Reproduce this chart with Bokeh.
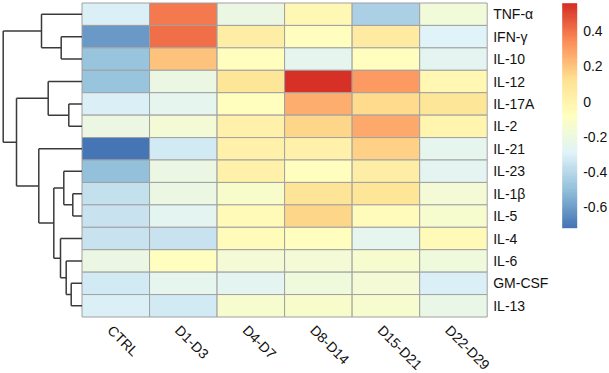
import numpy as np
from bokeh.plotting import figure
from bokeh.models import (ColumnDataSource, Range1d, LinearColorMapper, ColorBar,
                          FixedTicker)
from bokeh.core.properties import value
from bokeh.embed import file_html
from bokeh.resources import INLINE

# ---- data -------------------------------------------------------------
columns = ["CTRL", "D1-D3", "D4-D7", "D8-D14", "D15-D21", "D22-D29"]
rows = ["TNF-α", "IFN-γ", "IL-10", "IL-12", "IL-17A", "IL-2", "IL-21",
        "IL-23", "IL-1β", "IL-5", "IL-4", "IL-6", "GM-CSF", "IL-13"]

tnf_a  = [-0.30,  0.39, -0.21, -0.03, -0.43, -0.17]
ifn_g  = [-0.61,  0.41,  0.04, -0.07,  0.06, -0.29]
il_10  = [-0.48,  0.21, -0.07, -0.25, -0.07, -0.27]
il_12  = [-0.48, -0.22,  0.09,  0.56,  0.31, -0.02]
il_17a = [-0.30, -0.25, -0.07,  0.26,  0.14,  0.09]
il_2   = [-0.22, -0.16,  0.02,  0.16,  0.27, -0.01]
il_21  = [-0.72, -0.33,  0.02,  0.02,  0.17, -0.25]
il_23  = [-0.49, -0.21,  0.02, -0.07,  0.04, -0.26]
il_1b  = [-0.37, -0.22, -0.12,  0.10,  0.09, -0.16]
il_5   = [-0.35, -0.26, -0.05,  0.16, -0.06, -0.14]
il_4   = [-0.35, -0.36, -0.06, -0.08, -0.25, -0.05]
il_6   = [-0.22, -0.08, -0.16, -0.16, -0.14, -0.19]
gm_csf = [-0.33, -0.25, -0.26, -0.19, -0.16, -0.30]
il_13  = [-0.30, -0.33, -0.14, -0.12, -0.14, -0.23]

matrix = [tnf_a, ifn_g, il_10, il_12, il_17a, il_2, il_21,
          il_23, il_1b, il_5, il_4, il_6, gm_csf, il_13]

# row clustering: (left, right, height); leaves are 0..13, new clusters 14..
merges = [
    (1, 2, 20.8),     # 14
    (0, 14, 40.5),    # 15
    (4, 5, 13.2),     # 16
    (3, 16, 33.8),    # 17
    (8, 9, 9.2),      # 18
    (7, 18, 18.2),    # 19
    (12, 13, 10.8),   # 20
    (11, 20, 15.8),   # 21
    (10, 21, 21.5),   # 22
    (19, 22, 28.2),   # 23
    (6, 23, 43.2),    # 24
    (17, 24, 65.5),   # 25
    (15, 25, 78.8),   # 26
]

legend_ticks = [-0.6, -0.4, -0.2, 0, 0.2, 0.4]

# ---- layout -------------------------------------------------------------
W, H = 609, 373
LEFT, RIGHT = 81.5, 486.7       # heatmap edges (px)
TOP, BOTTOM = 2.5, 316.5
cw = (RIGHT - LEFT) / len(columns)
rh = (BOTTOM - TOP) / len(rows)
DENDRO_SPAN = 78.8 / cw          # tree width in column units

FONT = value("Liberation Sans")
FSIZE = "14px"

# RdYlBu (7) reversed, ramped to 100 colours
anchors = ["#4575B4", "#91BFDB", "#E0F3F8", "#FFFFBF", "#FEE090", "#FC8D59", "#D73027"]
rgb = np.array([[int(c[i:i + 2], 16) for i in (1, 3, 5)] for c in anchors], float)
pos = np.linspace(0, 1, len(anchors))
t = np.linspace(0, 1, 100)
ramp = np.stack([np.interp(t, pos, rgb[:, k]) for k in range(3)], axis=1)
palette = ["#%02X%02X%02X" % tuple(int(round(v)) for v in c) for c in ramp]

vals = np.array(matrix)
mapper = LinearColorMapper(palette=palette, low=vals.min(), high=vals.max())

p = figure(width=W, height=H, output_backend="svg", toolbar_location=None,
           x_range=Range1d(-LEFT / cw, (W - LEFT) / cw),
           y_range=Range1d(-(H - BOTTOM) / rh, len(rows) + TOP / rh),
           min_border=0, x_axis_location=None, y_axis_location=None,
           outline_line_color=None)
p.xgrid.visible = False
p.ygrid.visible = False

# ---- heatmap cells -----------------------------------------------------
nr = len(rows)
xs, ys, vs = [], [], []
for r, row in enumerate(matrix):
    for c, v in enumerate(row):
        xs.append(c + 0.5)
        ys.append(nr - r - 0.5)
        vs.append(v)
src = ColumnDataSource(dict(x=xs, y=ys, v=vs))
p.rect(x="x", y="y", width=1, height=1, source=src,
       fill_color={"field": "v", "transform": mapper},
       line_color="#A0A0A0", line_width=1)

# row labels on the right
p.text(x=[len(columns)] * nr, y=[nr - r - 0.5 for r in range(nr)], text=rows,
       x_offset=6, text_font=FONT, text_font_size=FSIZE, text_color="#111111",
       text_align="left", text_baseline="middle")

# column labels, slanted
p.text(x=[c + 0.5 for c in range(len(columns))], y=[0] * len(columns), text=columns,
       y_offset=5, angle=-np.pi / 4, text_font=FONT, text_font_size=FSIZE,
       text_color="#111111", text_align="left", text_baseline="top")

# ---- row dendrogram ------------------------------------------------------
max_h = max(m[2] for m in merges)
node_y = {i: nr - i - 0.5 for i in range(nr)}
node_h = {i: 0.0 for i in range(nr)}
x0s, y0s, x1s, y1s = [], [], [], []
def hx(h):
    return -h / max_h * DENDRO_SPAN
for k, (a, b, h) in enumerate(merges):
    nid = nr + k
    ya, yb = node_y[a], node_y[b]
    x0s += [hx(node_h[a]), hx(node_h[b]), hx(h)]
    x1s += [hx(h), hx(h), hx(h)]
    y0s += [ya, yb, ya]
    y1s += [ya, yb, yb]
    node_y[nid] = (ya + yb) / 2
    node_h[nid] = h
p.segment(x0=x0s, y0=y0s, x1=x1s, y1=y1s, line_color="#3A3A3A", line_width=1.5)

# ---- colour legend -------------------------------------------------------
cb = ColorBar(color_mapper=mapper, location=(561.7, H - 227.7), width=15, height=225,
              padding=0, margin=0, ticker=FixedTicker(ticks=legend_ticks),
              major_label_overrides={tk: ("%g" % tk) for tk in legend_ticks},
              major_tick_line_color=None, minor_tick_line_color=None,
              bar_line_color=None, border_line_color=None,
              background_fill_color=None, label_standoff=6,
              major_label_text_font="Liberation Sans",
              major_label_text_font_size=FSIZE,
              major_label_text_color="#111111")
p.add_layout(cb)

open("out.html", "w").write(file_html(p, INLINE))
